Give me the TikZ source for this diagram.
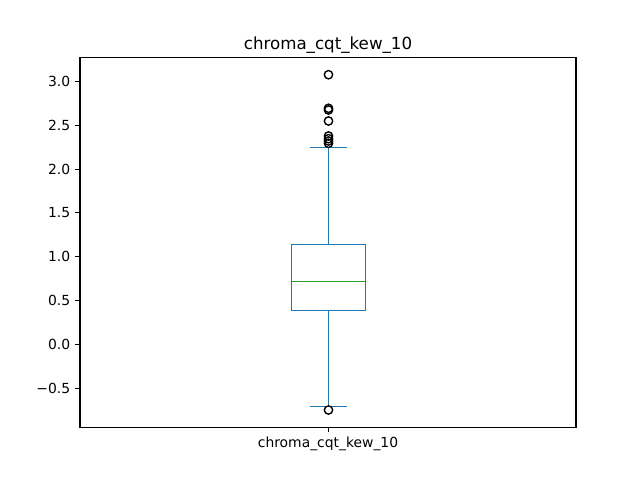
\documentclass[tikz,border=0pt]{standalone}
\usepackage{fontspec}
\setmainfont{DejaVu Sans}
\definecolor{mplblue}{RGB}{31,119,180}
\definecolor{mplgreen}{RGB}{44,160,44}
\tikzset{
  boxline/.style={draw=mplblue,line width=1.6pt},
  medline/.style={draw=mplgreen,line width=1.6pt},
  flier/.style={draw=black,line width=1.39pt,fill=none},
  spine/.style={draw=black,line width=1.11pt},
  tickline/.style={draw=black,line width=1.11pt},
  ticklabel/.style={font=\fontsize{13.89pt}{16pt}\selectfont,inner sep=0pt},
  titlelabel/.style={font=\fontsize{16.67pt}{19pt}\selectfont,inner sep=0pt}}
\begin{document}
\begin{tikzpicture}[x=1pt,y=-1pt]
\useasboundingbox (0,0) rectangle (640,480);
\fill[white] (0,0) rectangle (640,480);
% whiskers
\coordinate (q3) at (328.5,244.5);
\coordinate (q1) at (328.5,310.5);
\coordinate (wt) at (328.5,147.5);
\coordinate (wb) at (328.5,406.5);
\draw[boxline] (q3) -- (wt);
\draw[boxline] (q1) -- (wb);
\coordinate (capTL) at (310,147.5);
\coordinate (capTR) at (347,147.5);
\coordinate (capBL) at (310,406.5);
\coordinate (capBR) at (347,406.5);
\draw[boxline] (capTL) -- (capTR);
\draw[boxline] (capBL) -- (capBR);
% box
\draw[boxline] (291.5,244.5) rectangle (365.5,310.5);
\coordinate (medL) at (292,281.5);
\coordinate (medR) at (365,281.5);
\draw[medline] (medL) -- (medR);
% fliers
\foreach \py in {74.7,108.3,110,121,136,138.7,141,143.3,410}
  \draw[flier] (328.5,\py) circle[radius=4.17pt];
% axes
\draw[spine] (80,57.6) rectangle (576,427.2);
% y ticks
\foreach \v/\lab in {3.0/3.0,2.5/2.5,2.0/2.0,1.5/1.5,1.0/1.0,0.5/0.5,0.0/0.0,-0.5/{−0.5}}{
  \pgfmathsetmacro{\py}{344.3-87.6*\v}
  \draw[tickline] (80,\py) -- (75.1,\py);
  \node[ticklabel,anchor=east] at (70.3,\py) {\lab};
}
% x tick
\draw[tickline] (328.5,427.2) -- (328.5,432.1);
\node[ticklabel,anchor=north] (xl) at (328,437) {chroma\_cqt\_kew\_10};
% title
\node[titlelabel,anchor=base] (title) at (328,49.3) {chroma\_cqt\_kew\_10};
\end{tikzpicture}
\end{document}
